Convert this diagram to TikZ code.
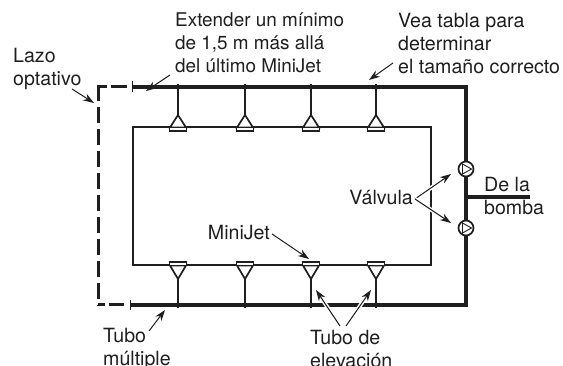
\documentclass[tikz,border=0pt]{standalone}
\usepackage{fontspec}
\setmainfont{TeX Gyre Heros}
\usetikzlibrary{arrows.meta,positioning}
\tikzset{font=\fontsize{19.6}{23}\selectfont}
\tikzset{pipe/.style={line width=3.2pt, color=black!88}}
\tikzset{branch/.style={line width=2.6pt, color=black!88}}
\tikzset{loopline/.style={line width=3pt, color=black!88}}
\tikzset{callout/.style={-{Stealth[length=11pt,width=7.5pt]}, line width=1pt, color=black!88}}
\tikzset{halo/.style={preaction={draw=white, line width=4pt, -}}}
\tikzset{label/.style={align=left, inner sep=0pt, text=black!88}}
\tikzset{valve/.style={circle, draw=black!88, line width=1.7pt, minimum size=15pt, inner sep=0pt, fill=white}}
\tikzset{jet/.style={line width=1.7pt, color=black!88, fill=white, line join=miter}}

\begin{document}
\begin{tikzpicture}[x=1pt,y=-1pt]
\useasboundingbox (0,0) rectangle (563,366);
% pipes
\coordinate (topL) at (132,87);
\coordinate (topR) at (466,87);
\coordinate (botL) at (131,305);
\coordinate (botR) at (466,305);
\coordinate (dashTL) at (98,87);
\coordinate (dashBL) at (98,305);
\coordinate (inTL) at (133,127);
\coordinate (inTR) at (431,127);
\coordinate (inBL) at (133,265);
\coordinate (inBR) at (431,265);
\coordinate (pumpA) at (466,197);
\coordinate (pumpB) at (530,197);

\draw[pipe, line join=miter] (topL) -- (topR) -- (botR) -- (botL);
\draw[branch, line join=miter] (inTL) -- (inTR) -- (inBR) -- (inBL) -- cycle;
\draw[pipe] (pumpA) -- (pumpB);
% optional loop
\draw[loopline] (127,87) -- (111,87);
\draw[loopline] (107,87) -- (dashTL);
\draw[loopline, dash pattern=on 16pt off 6pt] (98,85.5) -- (98,306.5);
\draw[loopline] (dashBL) -- (105,305);
\draw[loopline] (109,305) -- (124,305);
\draw[line width=1.2pt, color=black!88] (132.5,81) -- (132.5,92);
\draw[line width=1.2pt, color=black!88] (130.5,300) -- (130.5,310);

% risers and jets
\foreach \xpos/\name in {178/a,245/b,311/c,376/d}{
  \draw[branch] (\xpos,84) -- (\xpos,116);
  \draw[jet] (\xpos,115) -- (\xpos-8,127.5) -- (\xpos+8,127.5) -- cycle;
  \draw[jet] (\xpos-8.5,127.5) rectangle (\xpos+8.5,131);
  \draw[branch] (\xpos,277) -- (\xpos,308);
  \draw[jet] (\xpos,279) -- (\xpos-8,265.5) -- (\xpos+8,265.5) -- cycle;
  \draw[jet] (\xpos-8.5,262) rectangle (\xpos+8.5,265.5);
}

% valves
\node[valve] (valveT) at (466,169) {};
\node[valve] (valveB) at (466,228) {};
\foreach \v in {valveT,valveB}{
  \draw[line width=.9pt, color=black!88] ([xshift=-3.5pt,yshift=5pt]\v.center) -- ([xshift=5.5pt]\v.center) -- ([xshift=-3.5pt,yshift=-5pt]\v.center) -- cycle;
}

% callouts
\coordinate (tipLazo) at (94,103);
\coordinate (tipExt) at (146,91);
\coordinate (tipVea) at (369,80);
\coordinate (tipValT) at (451,174);
\coordinate (tipValB) at (451,223);
\coordinate (tipJet) at (309,259);
\coordinate (tipMul) at (165,310);
\coordinate (tipEl) at (316,290);
\coordinate (tipEr) at (371,290);
\coordinate (fromVal) at (415,199);
\draw[callout] (72,89) -- (tipLazo);
\draw[callout] (170,75) -- (tipExt);
\draw[callout] (393,63) -- (tipVea);
\draw[callout, halo] (fromVal) -- (tipValT);
\draw[callout, halo] (fromVal) -- (tipValB);
\draw[callout] (272,234) -- (tipJet);
\draw[callout] (149,331) -- (tipMul);
\draw[callout, halo] (340,326) -- (tipEl);
\draw[callout, halo] (346,326) -- (tipEr);

% labels
\node[label, anchor=north west] (lazo) at (13,48) {Lazo\\optativo};
\node[label, anchor=north west, font=\fontsize{18.9}{23}\selectfont] (extender) at (175,13) {Extender un mínimo\\de 1,5 m más allá\\del último MiniJet};
\node[label, anchor=north west] (vea) at (398,13) {Vea tabla para\\determinar\\el tamaño correcto};
\node[label, anchor=east] (valvula) at (413,198) {Válvula};
\node[label, anchor=north west] (bomba) at (484,177) {De la\\bomba};
\node[label, anchor=east] (minijet) at (270,233) {MiniJet};
\node[label, anchor=north west] (multiple) at (103,328) {Tubo\\múltiple};
\node[label, anchor=north west] (elevacion) at (310,330) {Tubo de\\elevación};
\end{tikzpicture}
\end{document}
